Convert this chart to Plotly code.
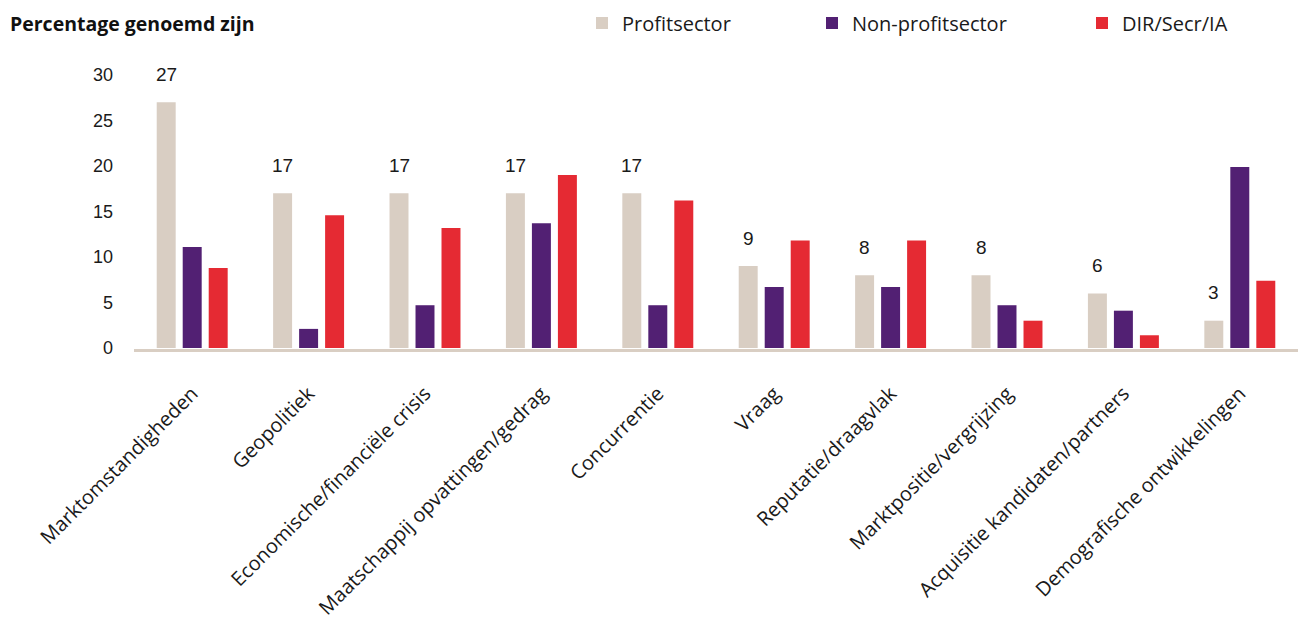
import plotly.graph_objects as go

# Categories and series values (percentage mentioned)
categories = [
    "Marktomstandigheden",
    "Geopolitiek",
    "Economische/financiële crisis",
    "Maatschappij opvattingen/gedrag",
    "Concurrentie",
    "Vraag",
    "Reputatie/draagvlak",
    "Marktpositie/vergrijzing",
    "Acquisitie kandidaten/partners",
    "Demografische ontwikkelingen",
]
profit = [27, 17, 17, 17, 17, 9, 8, 8, 6, 3]
non_profit = [11.1, 2.1, 4.7, 13.7, 4.7, 6.7, 6.7, 4.7, 4.1, 19.9]
dir_secr_ia = [8.8, 14.6, 13.2, 19.0, 16.2, 11.8, 11.8, 3.0, 1.4, 7.4]

y_ticks = [0, 5, 10, 15, 20, 25, 30]

series_names = ["Profitsector", "Non-profitsector", "DIR/Secr/IA"]
series_colors = ["#d9cec3", "#522073", "#e52a33"]

W, H = 1298, 619
BARGAP = 0.33
BARGROUPGAP = 0.27
slot = (1 - BARGAP) / 3  # width of one series slot inside a group (x units)

idx = list(range(len(categories)))

fig = go.Figure()
for k, (name, vals, col) in enumerate(zip(series_names, [profit, non_profit, dir_secr_ia], series_colors)):
    fig.add_trace(go.Bar(
        x=idx, y=vals, name=name,
        marker=dict(color=col, line=dict(width=0)),
        legend=["legend", "legend2", "legend3"][k],
        hoverinfo="y+name",
    ))

# Value labels above the profit-sector bars
for i, v in zip(idx, profit):
    fig.add_annotation(
        x=i - slot, y=v, text=str(v), showarrow=False,
        yshift=28, xanchor="center", yanchor="middle",
        font=dict(family="Liberation Sans, Arial, sans-serif", size=19, color="#1a1a1a"),
    )

legend_font = dict(family="Open Sans, sans-serif", size=20, color="#1a1a1a")
legend_left = [582, 812, 1082]
legend_cfg = {}
for key, lx in zip(["legend", "legend2", "legend3"], legend_left):
    legend_cfg[key] = dict(
        x=lx / W, y=1 - 23 / H, xref="container", yref="container",
        xanchor="left", yanchor="middle", orientation="h",
        font=legend_font, bgcolor="rgba(0,0,0,0)", borderwidth=0,
        traceorder="normal",
    )

plot_top, plot_bottom = 60, 349
px_per_unit = 9.1
y_min = -(plot_bottom - 348) / px_per_unit
y_max = (348 - plot_top) / px_per_unit

fig.update_layout(
    width=W, height=H,
    margin=dict(l=134, r=0, t=plot_top, b=H - plot_bottom, autoexpand=False),
    paper_bgcolor="white", plot_bgcolor="white",
    title=dict(
        text="<b>Percentage genoemd zijn</b>",
        x=10 / W, y=1 - 24 / H, xref="container", yref="container",
        xanchor="left", yanchor="middle",
        font=dict(family="Open Sans, sans-serif", size=19.5, color="#111111"),
    ),
    barmode="group", bargap=BARGAP, bargroupgap=BARGROUPGAP,
    showlegend=True,
    **legend_cfg,
    xaxis=dict(
        range=[-0.5, len(categories) - 0.5],
        tickmode="array", tickvals=idx, ticktext=categories,
        tickangle=-45, showgrid=False, zeroline=False,
        showline=True, linecolor="#d9cec3", linewidth=3,
        ticks="", ticklabelstandoff=22,
        tickfont=dict(family="Open Sans, sans-serif", size=20, color="#1a1a1a"),
        fixedrange=True,
    ),
    yaxis=dict(
        range=[y_min, y_max],
        tickmode="array", tickvals=y_ticks,
        showgrid=False, zeroline=False, showline=False,
        ticks="", ticklabelstandoff=20,
        tickfont=dict(family="Liberation Sans, Arial, sans-serif", size=18, color="#1a1a1a"),
        fixedrange=True,
    ),
)

fig.write_html("out.html", config={"displayModeBar": False})
